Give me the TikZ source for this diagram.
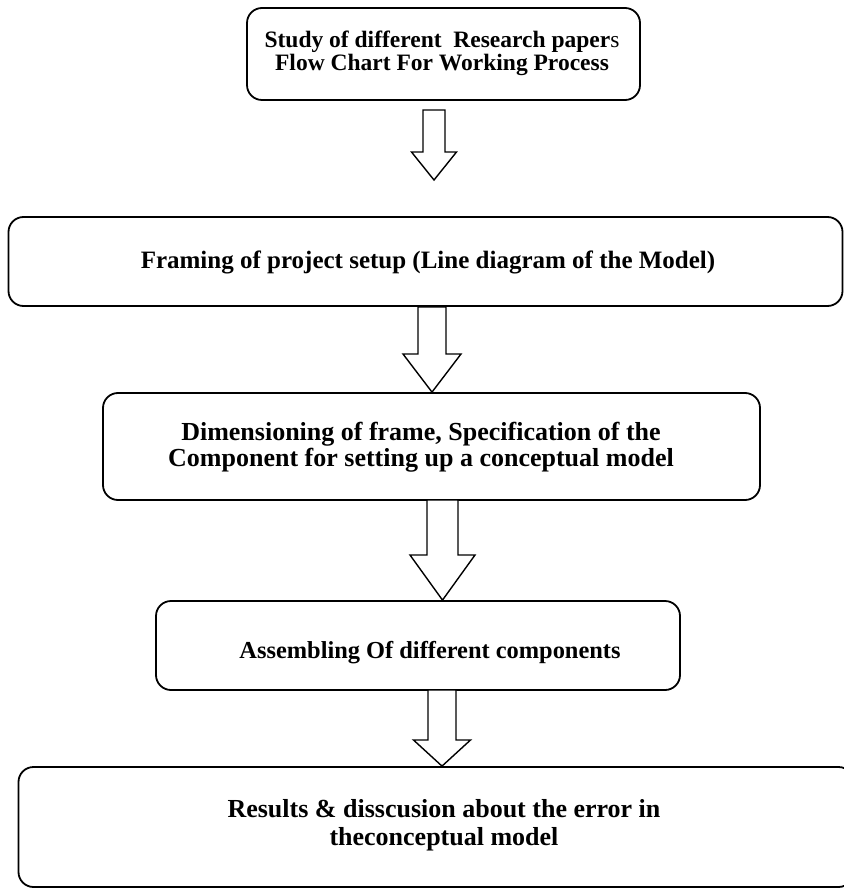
\documentclass[tikz,border=0pt]{standalone}
\usepackage{fontspec}
\setmainfont{Liberation Serif}
\usetikzlibrary{calc}
\tikzset{
  stage/.style={draw, line width=1.8pt, rounded corners=15pt, fill=white, inner sep=0pt},
  label/.style={align=center, inner sep=0pt},
  blk/.style={draw, line width=1.4pt, fill=white, line join=miter},
}
\newcommand\blockarrow[5]{% shaft top, head base, tip, shaft half width, head half width
  \draw[blk] ($(#1)+(-#4,0)$) -- ($(#2)+(-#4,0)$) -- ($(#2)+(-#5,0)$) -- (#3)
    -- ($(#2)+(#5,0)$) -- ($(#2)+(#4,0)$) -- ($(#1)+(#4,0)$) -- cycle;}
\begin{document}
\begin{tikzpicture}[x=1pt,y=1pt]
\useasboundingbox (0,0) rectangle (843,-890);
\fill[white] (0,0) rectangle (843,-890);
% boxes
\node[stage, minimum width=393pt, minimum height=92pt] (b1) at (443.5,-54) {};
\node[stage, minimum width=834pt, minimum height=89pt] (b2) at (425.5,-261.5) {};
\node[stage, minimum width=657pt, minimum height=107pt] (b3) at (431.5,-446.5) {};
\node[stage, minimum width=524pt, minimum height=89pt] (b4) at (418,-645.5) {};
\node[stage, minimum width=835pt, minimum height=120pt] (b5) at (436,-827) {};
% texts
\node[label, font=\bfseries\fontsize{23.5}{23}\selectfont] (l1) at (442,-53.5) {Study of different\ \ Research paper{\mdseries s}\\Flow Chart For Working Process};
\node[label, font=\bfseries\fontsize{25}{26}\selectfont] (l2) at (428,-262) {Framing of project setup (Line diagram of the Model)};
\node[label, font=\bfseries\fontsize{26}{26}\selectfont] (l3) at (421,-447) {Dimensioning of frame, Specification of the\\Component for setting up a conceptual model};
\node[label, font=\bfseries\fontsize{24.4}{26}\selectfont] (l4) at (430,-653) {Assembling Of different components};
\node[label, font=\bfseries\fontsize{26}{28}\selectfont] (l5) at (444,-825) {Results \& disscusion about the error in\\theconceptual model};
% arrow coordinates
\coordinate (s1) at (434,-110);
\coordinate (h1) at (434,-152);
\coordinate (t1) at (434,-180);
\coordinate (s2) at ($(b2.south)+(6.5,0)$);
\coordinate (h2) at (432,-354);
\coordinate (t2) at (b3.north -| s2);
\coordinate (s3) at (442.5,-500);
\coordinate (h3) at (442.5,-555);
\coordinate (t3) at (b4.north -| s3);
\coordinate (s4) at (442,-690);
\coordinate (h4) at (442,-740);
\coordinate (t4) at (b5.north -| s4);
\blockarrow{s1}{h1}{t1}{11}{22.5}
\blockarrow{s2}{h2}{t2}{14}{29}
\blockarrow{s3}{h3}{t3}{15.5}{32.5}
\blockarrow{s4}{h4}{t4}{14}{28.5}
\end{tikzpicture}
\end{document}
